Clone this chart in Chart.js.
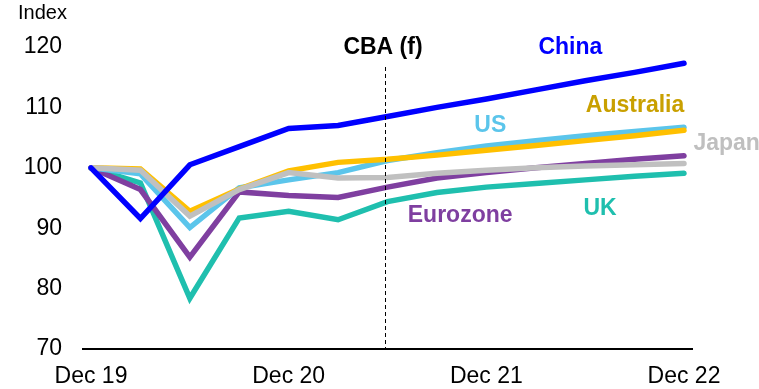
<!DOCTYPE html>
<html>
<head>
<meta charset="utf-8">
<script src="https://cdn.jsdelivr.net/npm/chart.js@4"></script>
<style>
html,body{margin:0;padding:0;background:#fff;}
#wrap{width:759px;height:389px;position:relative;}
</style>
</head>
<body>
<div id="wrap"><canvas id="c" width="759" height="389"></canvas></div>
<script>
// ---- data ----
const quarters = ['Dec 19','Mar 20','Jun 20','Sep 20','Dec 20','Mar 21','Jun 21','Sep 21','Dec 21','Mar 22','Jun 22','Sep 22','Dec 22'];
const xTickLabels = ['Dec 19','Dec 20','Dec 21','Dec 22'];
const yTicks = [70, 80, 90, 100, 110, 120];
const china     = [100, 91.6, 100.5, 103.5, 106.5, 107.0, 108.5, 110.0, 111.4, 112.9, 114.4, 115.8, 117.3];
const japan     = [100, 99.6, 92.0, 96.4, 99.2, 98.3, 98.4, 99.1, 99.6, 100.0, 100.3, 100.5, 100.7];
const australia = [100, 99.8, 92.8, 96.5, 99.5, 100.9, 101.4, 102.1, 102.9, 103.7, 104.5, 105.3, 106.2];
const us        = [100, 99.0, 90.1, 96.7, 98.0, 99.2, 101.2, 102.5, 103.6, 104.5, 105.3, 106.0, 106.7];
const eurozone  = [100, 96.4, 85.2, 96.0, 95.4, 95.1, 96.8, 98.3, 99.2, 100.0, 100.7, 101.4, 102.0];
const uk        = [100, 97.5, 78.4, 91.7, 92.8, 91.4, 94.4, 95.9, 96.8, 97.4, 98.0, 98.6, 99.1];
const forecastStart = 'Jun 21';

const FONT = '"Liberation Sans", Arial, sans-serif';
const toXY = arr => arr.map((v, i) => ({x: i, y: v}));
const mk = (label, arr, color) => ({
  label, data: toXY(arr), borderColor: color, backgroundColor: color,
  borderWidth: 5.5, pointRadius: 0, borderCapStyle: 'round', borderJoinStyle: 'miter', tension: 0
});

const seriesLabels = [
  {text: 'China',     color: '#0000FF', x: 9.70,  y: 118.8, align: 'center'},
  {text: 'Australia', color: '#C9A000', x: 11.01, y: 109.3, align: 'center'},
  {text: 'US',        color: '#5BC5EB', x: 8.08,  y: 106.0, align: 'center'},
  {text: 'Japan',     color: '#BFBFBF', x: 12.19, y: 103.0, align: 'left'},
  {text: 'Eurozone',  color: '#7F3FA0', x: 7.47,  y: 91.1,  align: 'center'},
  {text: 'UK',        color: '#1FBFAE', x: 10.30, y: 92.2,  align: 'center'}
];

const annot = {
  id: 'annot',
  afterDatasetsDraw(chart) {
    const ctx = chart.ctx, xs = chart.scales.x, ys = chart.scales.y;
    ctx.save();
    // forecast divider
    const fx = Math.round(xs.getPixelForValue(quarters.indexOf(forecastStart)) - 2);
    ctx.strokeStyle = '#000'; ctx.lineWidth = 1; ctx.setLineDash([4, 3]);
    ctx.beginPath(); ctx.moveTo(fx + 0.5, 67); ctx.lineTo(fx + 0.5, ys.bottom); ctx.stroke();
    ctx.setLineDash([]);
    ctx.textBaseline = 'alphabetic';
    ctx.fillStyle = '#000'; ctx.font = 'bold 23px ' + FONT; ctx.textAlign = 'center';
    ctx.fillText('CBA (f)', fx - 2, ys.getPixelForValue(118.9));
    ctx.font = '20px ' + FONT; ctx.textAlign = 'left';
    ctx.fillText('Index', 18, 19);
    ctx.font = 'bold 23px ' + FONT;
    for (const l of seriesLabels) {
      ctx.fillStyle = l.color; ctx.textAlign = l.align;
      ctx.fillText(l.text, xs.getPixelForValue(l.x), ys.getPixelForValue(l.y));
    }
    ctx.restore();
  }
};

new Chart(document.getElementById('c'), {
  type: 'line',
  data: {
    datasets: [
      mk('China', china, '#0000FF'),
      mk('Japan', japan, '#C0C0C0'),
      mk('Australia', australia, '#FFC000'),
      mk('US', us, '#5BC5EB'),
      mk('Eurozone', eurozone, '#7F3FA0'),
      mk('UK', uk, '#1FBFAE')
    ]
  },
  options: {
    responsive: false, animation: false, devicePixelRatio: 1,
    layout: {padding: {top: 47, right: 67, bottom: 0, left: 0}},
    plugins: {legend: {display: false}, tooltip: {enabled: false}},
    scales: {
      x: {
        type: 'linear', min: -0.162, max: 12.162,
        afterBuildTicks: s => { s.ticks = xTickLabels.map(l => ({value: quarters.indexOf(l)})); },
        afterFit: s => { s.height = 40; },
        ticks: {color: '#000', font: {family: FONT, size: 23}, padding: 14, maxRotation: 0, autoSkip: false,
                callback: v => quarters[v]},
        grid: {display: false, drawTicks: false},
        border: {display: true, color: '#000', width: 2}
      },
      y: {
        min: 70, max: 120,
        afterBuildTicks: s => { s.ticks = yTicks.map(v => ({value: v})); },
        afterFit: s => { s.width = 83; },
        ticks: {color: '#000', font: {family: FONT, size: 23}, padding: 21},
        grid: {display: false, drawTicks: false},
        border: {display: false}
      }
    }
  },
  plugins: [annot]
});
</script>
</body>
</html>
